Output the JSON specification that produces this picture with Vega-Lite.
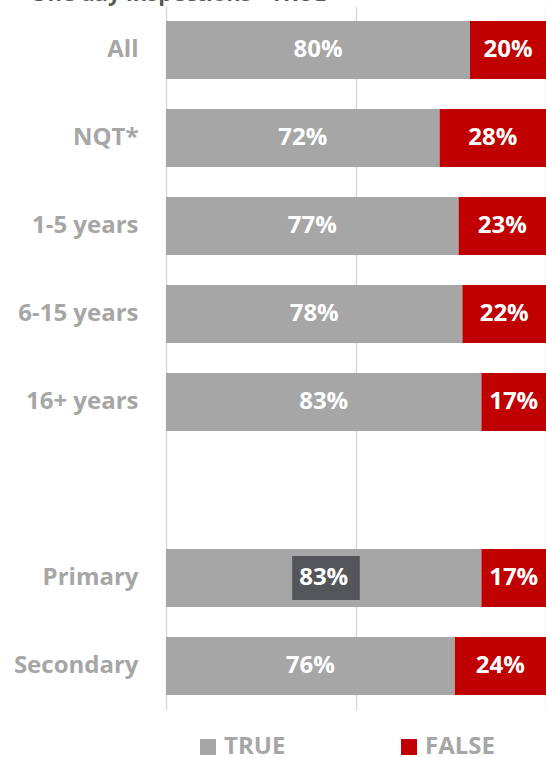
{
  "$schema": "https://vega.github.io/schema/vega-lite/v6.json",
  "width": 380,
  "height": 704,
  "autosize": "none",
  "padding": {"left": 166, "top": 6, "right": 0, "bottom": 48},
  "background": "white",
  "title": {
    "text": "One day inspections - TRUE",
    "anchor": "start",
    "frame": "group",
    "dx": -136,
    "offset": 0,
    "dy": 17,
    "baseline": "alphabetic",
    "font": "Open Sans",
    "fontSize": 22,
    "fontWeight": "bold",
    "color": "#595959"
  },
  "config": {
    "view": {"stroke": null},
    "font": "Open Sans"
  },
  "datasets": {
    "bars": [
      {"group": "All", "answer": "TRUE", "share": 0.80},
      {"group": "All", "answer": "FALSE", "share": 0.20},
      {"group": "NQT*", "answer": "TRUE", "share": 0.72},
      {"group": "NQT*", "answer": "FALSE", "share": 0.28},
      {"group": "1-5 years", "answer": "TRUE", "share": 0.77},
      {"group": "1-5 years", "answer": "FALSE", "share": 0.23},
      {"group": "6-15 years", "answer": "TRUE", "share": 0.78},
      {"group": "6-15 years", "answer": "FALSE", "share": 0.22},
      {"group": "16+ years", "answer": "TRUE", "share": 0.83},
      {"group": "16+ years", "answer": "FALSE", "share": 0.17},
      {"group": "Primary", "answer": "TRUE", "share": 0.83},
      {"group": "Primary", "answer": "FALSE", "share": 0.17},
      {"group": "Secondary", "answer": "TRUE", "share": 0.76},
      {"group": "Secondary", "answer": "FALSE", "share": 0.24}
    ],
    "highlight": [
      {"group": "Primary", "from": 0.332, "to": 0.51}
    ]
  },
  "layer": [
    {
      "data": {"name": "bars"},
      "mark": {"type": "bar"},
      "encoding": {
        "y": {
          "field": "group",
          "type": "nominal",
          "sort": null,
          "scale": {
            "domain": ["All", "NQT*", "1-5 years", "6-15 years", "16+ years", " ", "Primary", "Secondary"],
            "paddingInner": 0.34,
            "paddingOuter": 0.17
          },
          "axis": {
            "title": null,
            "domain": false,
            "ticks": false,
            "labelFont": "Open Sans",
            "labelFontSize": 24,
            "labelFontWeight": "bold",
            "labelColor": "#A6A6A6",
            "labelPadding": 28
          }
        },
        "x": {
          "field": "share",
          "type": "quantitative",
          "stack": "zero",
          "scale": {"domain": [0, 1], "nice": false},
          "axis": {
            "title": null,
            "labels": false,
            "ticks": false,
            "domain": false,
            "values": [0, 0.5, 1],
            "grid": true,
            "gridColor": "#D9D9D9",
            "gridWidth": 1.5
          }
        },
        "color": {
          "field": "answer",
          "type": "nominal",
          "scale": {"domain": ["TRUE", "FALSE"], "range": ["#A6A6A6", "#C00000"]},
          "legend": {
            "title": null,
            "orient": "none",
            "legendX": 30,
            "legendY": 729,
            "direction": "horizontal",
            "symbolType": "square",
            "symbolSize": 256,
            "symbolStrokeWidth": 0,
            "labelFont": "Open Sans",
            "labelFontSize": 24,
            "labelFontWeight": "bold",
            "labelColor": "#A6A6A6",
            "labelOffset": 4,
            "columnPadding": 111
          }
        },
        "order": {"field": "answer", "sort": "descending"}
      }
    },
    {
      "data": {"name": "highlight"},
      "mark": {"type": "bar", "color": "#545558", "height": {"band": 0.76}},
      "encoding": {
        "y": {"field": "group", "type": "nominal", "sort": null},
        "x": {"field": "from", "type": "quantitative"},
        "x2": {"field": "to"}
      }
    },
    {
      "data": {"name": "bars"},
      "mark": {"type": "text", "color": "white", "font": "Open Sans", "fontSize": 24, "fontWeight": "bold", "baseline": "middle", "align": "center"},
      "encoding": {
        "y": {"field": "group", "type": "nominal", "sort": null},
        "x": {"field": "share", "type": "quantitative", "stack": "zero", "bandPosition": 0.5},
        "detail": {"field": "answer"},
        "order": {"field": "answer", "sort": "descending"},
        "text": {"field": "share", "type": "quantitative", "format": ".0%"}
      }
    }
  ]
}
